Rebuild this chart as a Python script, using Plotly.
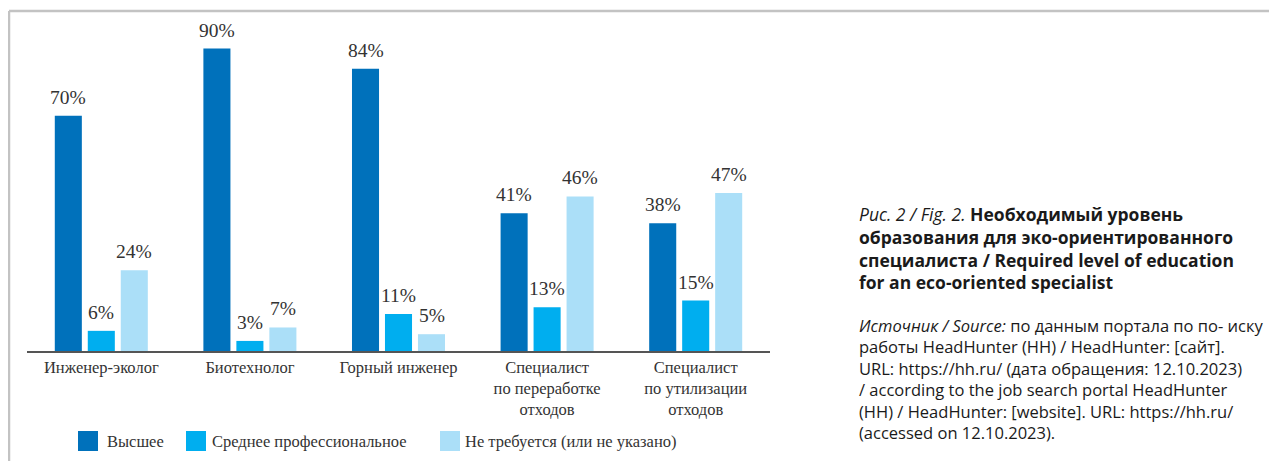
import plotly.graph_objects as go

categories = ["Инженер-эколог", "Биотехнолог", "Горный инженер",
              "Специалист по переработке отходов", "Специалист по утилизации отходов"]
tick_labels = ["Инженер-эколог", "Биотехнолог", "Горный инженер",
               "Специалист<br>по переработке<br>отходов", "Специалист<br>по утилизации<br>отходов"]
series_names = ["Высшее", "Среднее профессиональное", "Не требуется (или не указано)"]
higher = [70, 90, 84, 41, 38]
secondary = [6, 3, 11, 13, 15]
not_required = [24, 7, 5, 46, 47]
colors = ["#0071BB", "#00AEEF", "#ABDFF8"]

# page body has an 8px margin; figure pixel = page pixel - 8
OFF = 8
W, H = 1269, 453
L, R, T, B = 19, 507, 12, 110
pw, ph = W - L - R, H - T - B


def px(x):
    return (x - OFF - L) / pw


def py(y):
    return 1 - (y - OFF - T) / ph


serif = "Liberation Serif, Times New Roman, serif"
sans = "Open Sans, Roboto, Liberation Sans, Arial, sans-serif"

fig = go.Figure()
all_series = [higher, secondary, not_required]
for name, vals, col in zip(series_names, all_series, colors):
    fig.add_trace(go.Bar(
        x=categories, y=vals, name=name, marker_color=col, marker_line_width=0,
        showlegend=False, hoverinfo="x+y",
    ))

# value labels above bars (offset per series within group)
slot_px = 33
for i, vals in enumerate(all_series):
    for c, v in zip(categories, vals):
        fig.add_annotation(x=c, y=v, xref="x", yref="y", text=f"{v}%",
                           showarrow=False, xanchor="center", yanchor="bottom",
                           xshift=(i - 1) * slot_px, yshift=6,
                           font=dict(family=serif, size=19.5, color="#333333"))

fig.update_layout(
    width=W, height=H,
    margin=dict(l=L, r=R, t=T, b=B, pad=0),
    paper_bgcolor="white", plot_bgcolor="white",
    barmode="group", bargap=0.334, bargroupgap=0.18,
    xaxis=dict(
        tickmode="array", tickvals=categories, ticktext=tick_labels,
        showline=True, linecolor="#555555", linewidth=1.5,
        ticks="", showgrid=False, zeroline=False,
        tickfont=dict(family=serif, size=16.5, color="#333333"),
    ),
    yaxis=dict(range=[0, 98.5], visible=False, showgrid=False, zeroline=False),
    font=dict(family=serif, color="#333333"),
)

# frame lines
fig.add_shape(type="line", xref="paper", yref="paper",
              x0=px(9), x1=px(1290), y0=py(11), y1=py(11),
              line=dict(color="#C3C3C3", width=2.5))
fig.add_shape(type="line", xref="paper", yref="paper",
              x0=px(9), x1=px(9), y0=py(11), y1=py(480),
              line=dict(color="#C3C3C3", width=2.5))

# custom legend
leg_sq = [78, 186, 440]
leg_tx = [105, 210, 463]
for name, col, sx, tx in zip(series_names, colors, leg_sq, leg_tx):
    fig.add_shape(type="rect", xref="paper", yref="paper",
                  x0=px(sx), x1=px(sx + 20), y0=py(431), y1=py(451),
                  fillcolor=col, line_width=0)
    fig.add_annotation(xref="paper", yref="paper", x=px(tx), y=py(441),
                       text=name, showarrow=False, xanchor="left", yanchor="middle",
                       font=dict(family=serif, size=16.5, color="#333333"))

# caption
title = ("<i>Рис. 2 / Fig. 2.</i> <b>Необходимый уровень</b><br>"
         "<b>образования для эко-ориентированного</b><br>"
         "<b>специалиста / Required level of education</b><br>"
         "<b>for an eco-oriented specialist</b>")
fig.add_annotation(xref="paper", yref="paper", x=px(857), y=py(200),
                   text=title, showarrow=False, xanchor="left", yanchor="top", align="left",
                   font=dict(family=sans, size=17.5, color="#1a1a1a"))
source = ("<i>Источник / Source:</i> по данным портала по по- иску<br>"
          "работы HeadHunter (HH) / HeadHunter: [сайт].<br>"
          "URL: https://hh.ru/ (дата обращения: 12.10.2023)<br>"
          "/ according to the job search portal HeadHunter<br>"
          "(HH) / HeadHunter: [website]. URL: https://hh.ru/<br>"
          "(accessed on 12.10.2023).")
fig.add_annotation(xref="paper", yref="paper", x=px(857), y=py(312),
                   text=source, showarrow=False, xanchor="left", yanchor="top", align="left",
                   font=dict(family=sans, size=16.5, color="#1a1a1a"))

fig.write_html("out.html")
